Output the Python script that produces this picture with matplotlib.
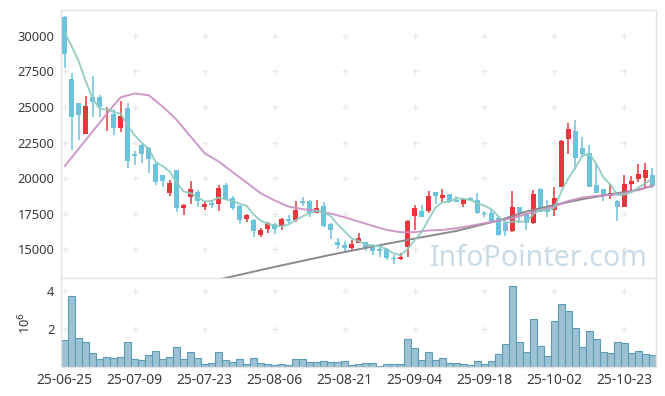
import numpy as np
import matplotlib
matplotlib.use("Agg")
import matplotlib.pyplot as plt
import matplotlib.ticker as mticker

plt.rcParams['font.family'] = ['Noto Sans', 'DejaVu Sans']

# daily candles, index 0 = 25-06-25
opens = [31360, 26980, 25270, 23130, 25740, 25690, 24210, 24520, 23560, 24940,
         21710, 22340, 22130, 21000, 20230, 18990, 20560, 17930, 18640, 19040,
         18000, 18240, 18170, 19530, 18590, 18050, 17140, 17070, 15970, 16410,
         16760, 16670, 17110, 17070, 18400, 18400, 17580, 18050, 16790, 15500,
         15310, 15100, 15470, 15500, 15290, 15010, 15010, 14370, 14330, 15190,
         17350, 17700, 17720, 19010, 18590, 18870, 18470, 18170, 18590, 18470,
         17540, 17540, 17180, 16880, 16250, 17960, 17490, 16830, 19250, 17840,
         17770, 19410, 22760, 23320, 22150, 21750, 19530, 19220, 18750, 18400,
         18000, 19570, 19930, 20000, 20230]
highs = [31400, 27380, 25300, 25780, 27190, 25850, 25030, 24850, 25410, 25270,
         21940, 22400, 22220, 21170, 20250, 19880, 20600, 18170, 19790, 19150,
         18290, 18470, 19530, 19640, 18750, 18120, 17470, 17110, 16480, 16950,
         16830, 17180, 17420, 18400, 18660, 18470, 18470, 18310, 16830, 15780,
         15590, 15660, 16130, 15540, 15360, 15310, 15070, 14610, 14770, 17050,
         18120, 18120, 19110, 19050, 19220, 18900, 18710, 18590, 18640, 18940,
         17700, 17820, 17250, 17180, 19110, 18000, 17520, 19180, 19280, 18470,
         19360, 22650, 23860, 24100, 22920, 22340, 21050, 19250, 19570, 18430,
         20230, 20160, 21000, 21050, 20700]
lows = [27730, 21990, 22690, 23110, 24330, 24330, 23320, 23020, 23280, 20700,
        20910, 21050, 20350, 19530, 19410, 18710, 17650, 17420, 18170, 17960,
        17770, 17890, 17700, 18450, 17770, 16790, 16900, 15850, 15850, 16130,
        16080, 16320, 16720, 16900, 18050, 17300, 17530, 16550, 15710, 15010,
        14790, 14960, 15450, 14910, 14610, 14490, 14260, 13970, 14210, 14490,
        16360, 17280, 17580, 18170, 18290, 18240, 18290, 17960, 18360, 17490,
        17300, 16900, 15940, 15940, 16220, 16830, 16360, 16800, 17620, 17300,
        17350, 19380, 21680, 20580, 21520, 19380, 18950, 18360, 18520, 17000,
        17960, 19060, 19760, 19410, 19340]
closes = [28710, 24330, 24470, 25060, 25380, 25030, 24260, 23560, 24380, 21240,
          21590, 21730, 21330, 19760, 19830, 19640, 17930, 18100, 19220, 18360,
          18190, 18120, 19320, 18520, 17930, 17070, 17420, 16250, 16360, 16880,
          16430, 17110, 17000, 17770, 18260, 17540, 17890, 16670, 16320, 15310,
          15120, 15380, 15780, 15080, 14910, 14890, 14370, 14300, 14490, 17020,
          17910, 17300, 18710, 18750, 18820, 18290, 18330, 18520, 18430, 17580,
          17490, 17020, 16010, 16250, 17960, 17540, 16830, 18890, 17650, 17650,
          18590, 22620, 23460, 21450, 21710, 19410, 18990, 18710, 18940, 18000,
          19600, 19810, 20300, 20580, 19480]
volumes = [1.41, 3.70, 1.51, 1.30, 0.73, 0.42, 0.52, 0.47, 0.52, 1.30,
           0.42, 0.37, 0.63, 0.83, 0.42, 0.52, 1.04, 0.42, 0.78, 0.47,
           0.16, 0.21, 0.78, 0.37, 0.26, 0.42, 0.16, 0.47, 0.21, 0.16,
           0.10, 0.16, 0.10, 0.42, 0.42, 0.26, 0.26, 0.31, 0.26, 0.26,
           0.31, 0.10, 0.16, 0.21, 0.21, 0.05, 0.16, 0.16, 0.16, 1.46,
           0.99, 0.37, 0.78, 0.37, 0.47, 0.21, 0.21, 0.16, 0.10, 0.31,
           0.16, 0.31, 0.68, 1.20, 4.23, 1.30, 0.78, 2.50, 1.10, 0.57,
           2.40, 3.29, 2.92, 2.03, 1.04, 1.88, 1.46, 0.78, 0.73, 1.30,
           1.25, 0.73, 0.83, 0.68, 0.63]  # millions of shares

# moving averages (first MA5 values depend on days before the window)
ma5_head = [30230, 29250, 28200, 26790]
ma20_idx = [0, 2, 4, 6, 7, 8, 10, 12, 14, 16, 18, 20, 22, 24, 26, 28, 30, 32, 34, 36,
            38, 40, 42, 44, 46, 48, 50, 52, 54, 56, 58, 60, 62, 64, 66, 68, 70, 72,
            74, 76, 78, 80, 82, 84]
ma20_val = [20860, 22080, 23300, 24520, 25130, 25690, 25950, 25830, 25030, 24100,
            22920, 21750, 21170, 20420, 19690, 18940, 18430, 18000, 17820, 17720,
            17510, 17250, 16950, 16650, 16360, 16200, 16200, 16320, 16360, 16480,
            16650, 16830, 17020, 17180, 17470, 17770, 18000, 18400, 18640, 18750,
            18820, 18940, 19180, 19460]
malong_idx = [20, 30, 38, 44, 50, 56, 62, 66, 70, 74, 78, 82, 84]
malong_val = [12650, 13760, 14610, 15190, 15750, 16290, 17020, 17650, 18120, 18520,
              18870, 19180, 19460]

tick_pos = [0, 10, 20, 30, 40, 50, 60, 70, 80]
tick_labels = ['25-06-25', '25-07-09', '25-07-23', '25-08-06', '25-08-21',
               '25-09-04', '25-09-18', '25-10-02', '25-10-23']
price_ticks = [15000, 17500, 20000, 22500, 25000, 27500, 30000]

n = len(closes)
x = np.arange(n)
o = np.array(opens); c = np.array(closes)
h = np.array(highs); l = np.array(lows)
ma5 = ma5_head + [np.mean(closes[i - 4:i + 1]) for i in range(4, n)]

up_col = '#e8363c'
dn_col = '#6cc3dc'
cols = [up_col if cc > oo else dn_col for oo, cc in zip(o, c)]
spine_col = '#e3e3e3'
txt_col = '#3a3a3a'

fig = plt.figure(figsize=(6.65, 3.96), dpi=100)
ax = fig.add_axes([0.0922, 0.298, 0.894, 0.677])
axv = fig.add_axes([0.0922, 0.0725, 0.894, 0.2255], sharex=ax)

# grid drawn as little crosses
gx, gy = np.meshgrid(tick_pos, price_ticks)
ax.scatter(gx.ravel(), gy.ravel(), marker='+', s=14, color='#e8e8e8', linewidths=0.9, zorder=0)
gx, gy = np.meshgrid(tick_pos, [2, 4])
axv.scatter(gx.ravel(), gy.ravel(), marker='+', s=14, color='#e8e8e8', linewidths=0.9, zorder=0)

ax.text(52.2, 13830, 'InfoPointer.com', fontsize=20.6, color='#c9dbe6',
        ha='left', va='baseline', zorder=1)

ax.vlines(x, l, h, colors=cols, linewidth=1.1, zorder=3)
body = np.maximum(np.abs(c - o), 30)
ax.bar(x, body, bottom=np.minimum(o, c), width=0.76, color=cols, linewidth=0, zorder=4)

ax.plot(malong_idx, malong_val, color='#8a8a8a', linewidth=1.4, zorder=5)
ax.plot(ma20_idx, ma20_val, color='#c98ec4', linewidth=1.4, alpha=0.9, zorder=5)
ax.plot(x, ma5, color='#8ccbc0', linewidth=1.4, alpha=0.9, zorder=6)

ax.set_xlim(-0.5, 84.5)
ax.set_ylim(12980, 31830)
ax.set_yticks(price_ticks)
ax.tick_params(axis='y', length=0, pad=5, labelsize=9.3, labelcolor=txt_col)
ax.tick_params(axis='x', length=0, labelbottom=False)

axv.bar(x, volumes, width=1.0, color='#9cc2d3', edgecolor='#5d9bb6', linewidth=0.8, zorder=2)
axv.set_ylim(0, 4.66)
axv.set_yticks([2, 4])
axv.yaxis.set_major_formatter(mticker.FormatStrFormatter('%d'))
axv.set_ylabel('10$^6$', fontsize=9.3, color=txt_col, labelpad=10)
axv.set_xticks(tick_pos)
axv.set_xticklabels(tick_labels)
axv.tick_params(axis='y', length=0, pad=5, labelsize=9.3, labelcolor=txt_col)
axv.tick_params(axis='x', length=0, pad=4, labelsize=10, labelcolor=txt_col)

for a in (ax, axv):
    for s in a.spines.values():
        s.set_color(spine_col)
        s.set_linewidth(1)

fig.savefig('out.png', dpi=100)
